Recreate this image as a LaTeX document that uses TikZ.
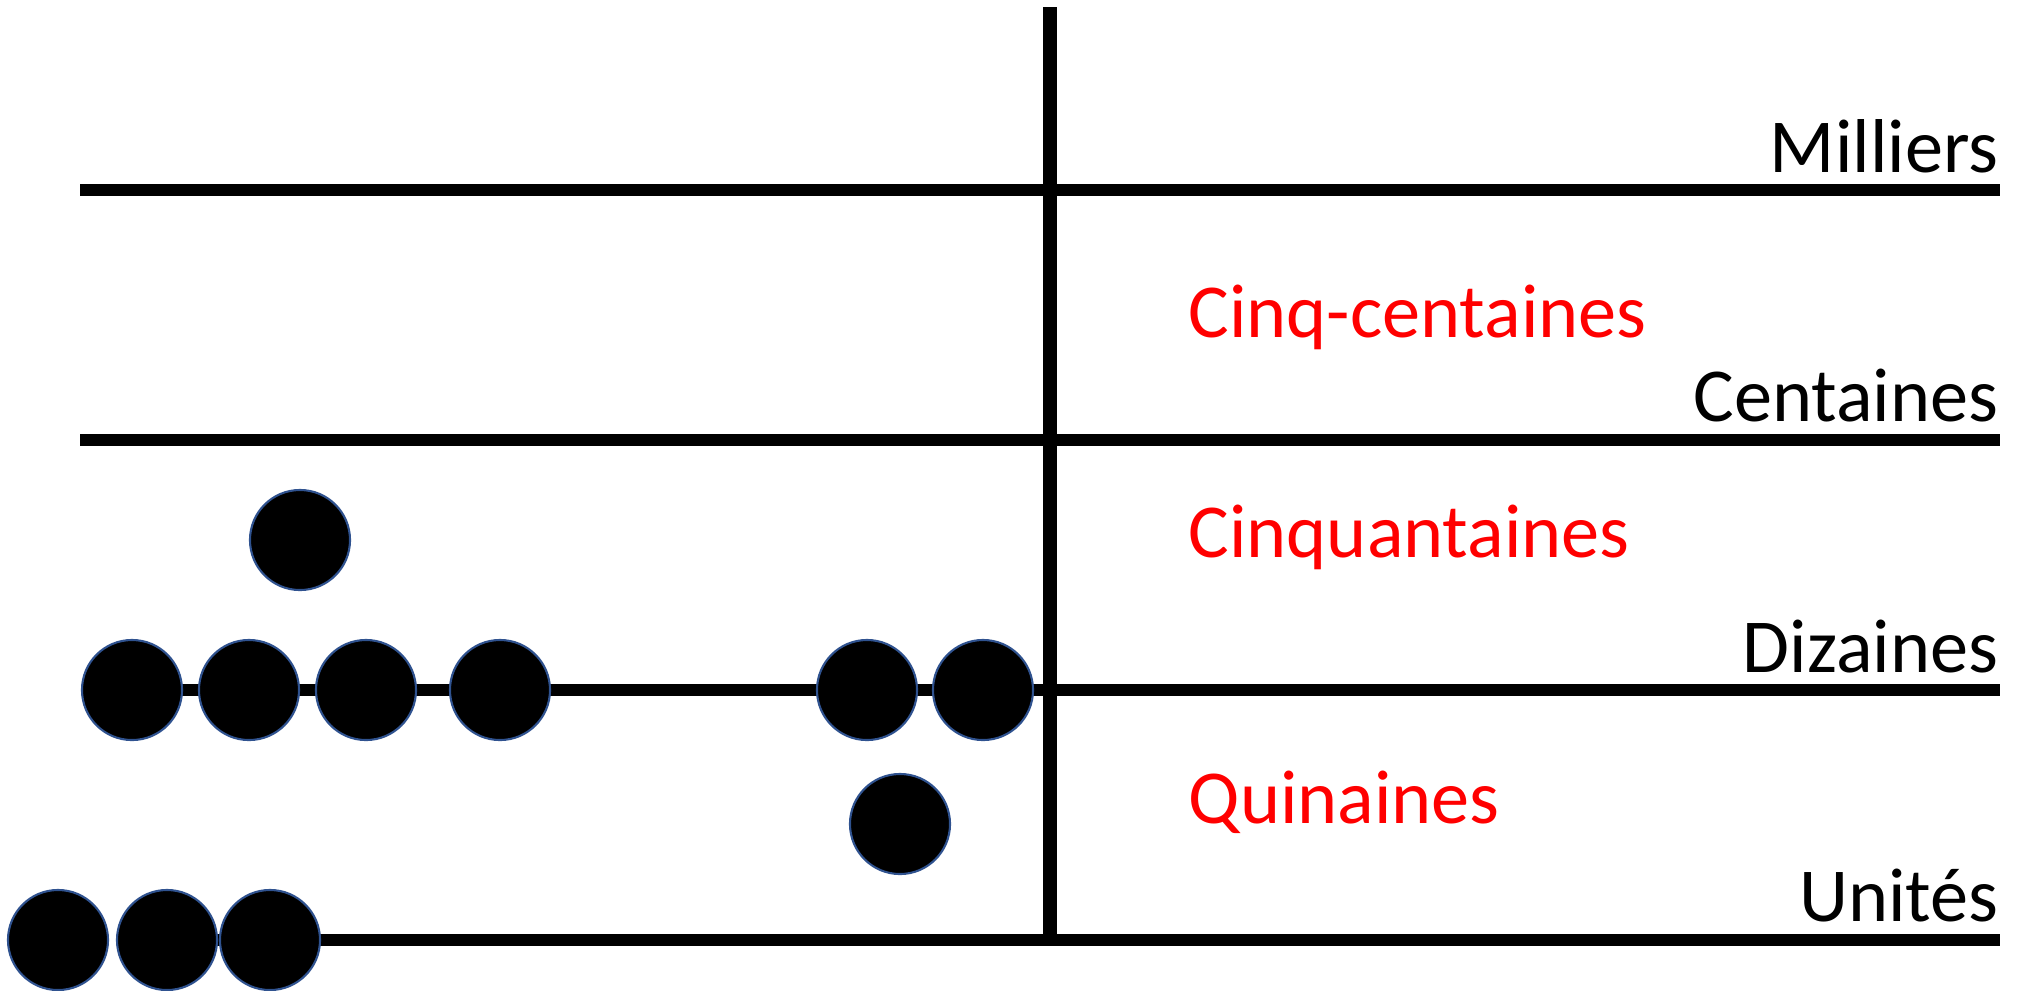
\documentclass[tikz,border=0pt]{standalone}
\usepackage{fontspec}
\setmainfont{Carlito}
\usepackage{xcolor}
\usetikzlibrary{positioning}
\definecolor{AbaqueBlue}{HTML}{2F528F}
\definecolor{AbaqueRed}{HTML}{FF0000}

\begin{document}
\begin{tikzpicture}[x=0.01cm,y=-0.01cm,
 rod/.style={line width=0.12cm},
 bead/.style={circle,draw=AbaqueBlue,line width=0.6pt,fill=black,minimum size=1cm,inner sep=0pt},
 rank/.style={font=\fontsize{21.7}{26}\selectfont,anchor=base east,inner sep=0pt},
 half/.style={font=\fontsize{21.7}{26}\selectfont,color=AbaqueRed,anchor=base west,inner sep=0pt}]
\useasboundingbox (0,0) rectangle (2026,990);
\coordinate (top) at (1050,7);
\coordinate (bottom) at (1050,940);
\coordinate (mL) at (80,190);
\coordinate (mR) at (2000,190);
\coordinate (cL) at (80,440);
\coordinate (cR) at (2000,440);
\coordinate (dL) at (132,690);
\coordinate (dR) at (2000,690);
\coordinate (uL) at (167,940);
\coordinate (uR) at (2000,940);
\draw[rod] (mL) -- (mR);
\draw[rod] (cL) -- (cR);
\draw[rod] (dL) -- (dR);
\draw[rod] (uL) -- (uR);
\draw[line width=0.14cm] (top) -- (bottom);
\node[rank] (milliers) at (1999,172) {Milliers};
\node[rank] (centaines) at (1999,421) {Centaines};
\node[rank] (dizaines) at (1999,672) {Dizaines};
\node[rank] (unites) at (1999,921) {Unités};
\node[half] (cinqcent) at (1188,337) {Cinq-centaines};
\node[half] (cinquante) at (1188,557) {Cinquantaines};
\node[half] (quinaines) at (1188,823) {Quinaines};
\node[bead] (c1) at (300,540) {};
\node[bead] (d1) at (132,690) {};
\node[bead] (d2) at (249,690) {};
\node[bead] (d3) at (366,690) {};
\node[bead] (d4) at (500,690) {};
\node[bead] (d5) at (867,690) {};
\node[bead] (d6) at (983,690) {};
\node[bead] (q1) at (900,824) {};
\node[bead] (u1) at (58,940) {};
\node[bead] (u2) at (167,940) {};
\node[bead] (u3) at (270,940) {};
\end{tikzpicture}
\end{document}
